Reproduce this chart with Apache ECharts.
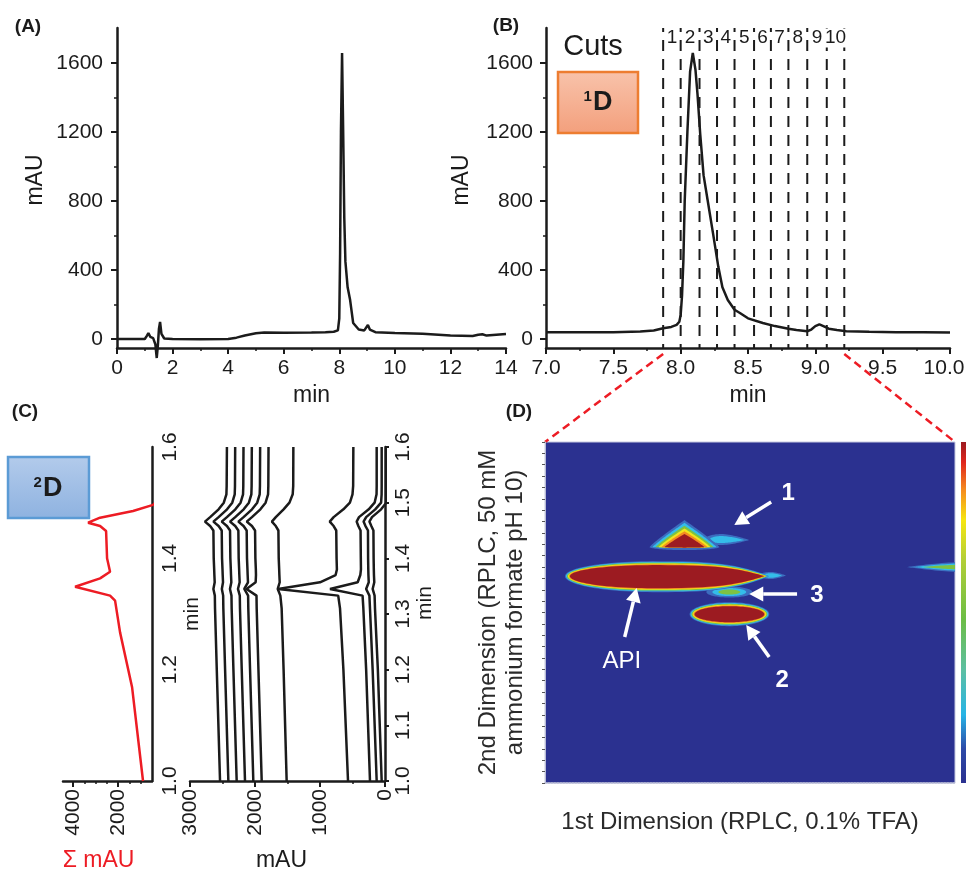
<!DOCTYPE html>
<html>
<head>
<meta charset="utf-8">
<script src="https://cdn.jsdelivr.net/npm/echarts@6.0.0/dist/echarts.min.js"></script>
<style>
html,body{margin:0;padding:0;background:#fff;}
#chart{width:966px;height:871px;}
</style>
</head>
<body>
<div id="chart"></div>
<script>
// ================= DATA =================
// Panel A : full 1D chromatogram
const aTime = [0, 0.5, 1.0, 1.08, 1.13, 1.2, 1.3, 1.38, 1.43, 1.47, 1.51, 1.55, 1.6, 1.7, 2.0, 3.0, 4.0, 4.3, 4.6, 5.0, 5.3, 6.0, 7.0, 7.5, 7.8, 7.95, 8.0, 8.03, 8.06, 8.1, 8.14, 8.18, 8.22, 8.3, 8.39, 8.5, 8.7, 8.9, 8.97, 9.03, 9.1, 9.3, 10, 11, 12, 12.8, 13.0, 13.15, 13.3, 14];
const aMAU  = [0, 0, 0, 20, 35, 12, 5, -30, -110, -40, 60, 99, 30, 3, 0, -2, 0, 8, 20, 33, 38, 37, 38, 40, 42, 50, 120, 500, 1200, 1658, 1200, 700, 450, 300, 226, 93, 55, 50, 60, 81, 55, 40, 35, 30, 20, 18, 25, 28, 20, 29];
const aTickLabels = ['0','2','4','6','8','10','12','14'];

// Panel B : zoom on main peak with heart-cuts
const bTime = [7.0, 7.3, 7.5, 7.7, 7.8, 7.87, 7.93, 7.97, 7.99, 8.0, 8.01, 8.02, 8.03, 8.05, 8.07, 8.09, 8.11, 8.125, 8.145, 8.17, 8.2, 8.24, 8.28, 8.31, 8.35, 8.4, 8.44, 8.5, 8.61, 8.7, 8.8, 8.86, 8.94, 8.97, 9.0, 9.03, 9.06, 9.1, 9.16, 9.23, 9.4, 9.6, 9.8, 10.0];
const bMAU  = [40, 40, 40, 44, 50, 62, 70, 82, 100, 140, 250, 450, 800, 1200, 1550, 1658, 1560, 1420, 1190, 950, 806, 614, 417, 300, 226, 170, 151, 120, 93, 75, 60, 52, 45, 55, 75, 85, 75, 60, 52, 45, 42, 40, 40, 38];
const cutEdges  = [7.87, 8.0, 8.14, 8.27, 8.4, 8.545, 8.67, 8.8, 8.94, 9.085, 9.215];
const cutLabels = ['1','2','3','4','5','6','7','8','9','10'];
const mAUTicks = [0, 400, 800, 1200, 1600];
const mAUMinorTicks = [200, 600, 1000, 1400];

// Panel C : 2D chromatograms of the cuts
const sumTime = [1.0, 1.169, 1.267, 1.324, 1.333, 1.349, 1.364, 1.376, 1.4, 1.449, 1.458, 1.464, 1.473, 1.485, 1.496, 1.515, 1.545, 1.58, 1.595];
const sumMAU  = [889, 1378, 1911, 2133, 2356, 3911, 2800, 2356, 2489, 2533, 2800, 3333, 2800, 1333, 444, -89, -222, -267, -267];
const sumTicks = [2000, 4000];
const sumMinorTicks = [1000, 1500, 2500, 3000, 3500];
const cTime = [1.0, 1.2, 1.31, 1.333, 1.345, 1.357, 1.37, 1.38, 1.4, 1.45, 1.458, 1.466, 1.474, 1.488, 1.5, 1.515, 1.53, 1.6];
const cTrace1  = [2538, 2588, 2615, 2618, 2640, 2620, 2625, 2628, 2635, 2640, 2690, 2770, 2690, 2560, 2480, 2440, 2436, 2432];
const cTrace2  = [2410, 2460, 2487, 2490, 2510, 2492, 2497, 2500, 2507, 2512, 2560, 2640, 2560, 2430, 2350, 2312, 2308, 2305];
const cTrace3  = [2282, 2332, 2359, 2362, 2385, 2364, 2369, 2372, 2379, 2384, 2432, 2512, 2432, 2302, 2222, 2184, 2180, 2177];
const cTrace4  = [2154, 2204, 2231, 2234, 2262, 2236, 2241, 2244, 2251, 2256, 2304, 2384, 2304, 2174, 2094, 2056, 2052, 2049];
const cTrace5  = [2026, 2076, 2103, 2106, 2165, 2108, 2113, 2116, 2123, 2128, 2176, 2256, 2176, 2046, 1966, 1928, 1924, 1921];
const cTrace6  = [1897, 1947, 1974, 1977, 2130, 1990, 1985, 1987, 1994, 1999, 2047, 2127, 2047, 1917, 1837, 1799, 1795, 1792];
const cTrace7  = [1513, 1560, 1590, 1610, 1650, 1620, 1625, 1628, 1635, 1640, 1680, 1740, 1680, 1560, 1470, 1420, 1412, 1410];
const cTrace8  = [569, 640, 692, 720, 1646, 1000, 760, 740, 745, 750, 790, 850, 790, 640, 540, 500, 490, 487];
const cTrace9  = [231, 290, 333, 345, 846, 420, 380, 370, 372, 376, 410, 436, 400, 250, 160, 130, 128, 128];
const cTrace10 = [128, 190, 231, 240, 290, 250, 255, 257, 260, 262, 300, 330, 290, 150, 60, 52, 51, 51];
const cTrace11 = [51, 110, 154, 160, 190, 165, 170, 172, 175, 178, 210, 240, 200, 60, -20, -26, -26, -26];
const cTraces = [cTrace1, cTrace2, cTrace3, cTrace4, cTrace5, cTrace6, cTrace7, cTrace8, cTrace9, cTrace10, cTrace11];

// Panel D : 2D contour map peaks (1D time, 2D time, half-widths, contour levels reached)
const blobNames  = ['API tail', '1 wing', 'late', '3', 'API', '1', '2'];
const blobT1     = [8.6118, 8.4485, 9.2426, 8.4746, 8.223, 8.3275, 8.475];
const blobT2     = [1.3651, 1.4275, 1.38, 1.336, 1.364, 1.4152, 1.297];
const blobW1L    = [0.0392, 0.0556, 0.186, 0.0752, 0.2876, 0.1144, 0.1307];
const blobW1R    = [0.049, 0.0915, 0.016, 0.0752, 0.382, 0.1144, 0.1307];
const blobW2T    = [0.0062, 0.0106, 0.0088, 0.0097, 0.0264, 0.0475, 0.0211];
const blobW2B    = [0.0062, 0.0088, 0.0088, 0.0097, 0.0282, 0.0053, 0.0211];
const blobLevels = [2, 2, 3, 3, 6, 6, 6];
const annLabels = ['1', '3', '2', 'API'];
const annX = [8.6675, 8.7622, 8.6479, 8.1217];
const annY = [1.5103, 1.3308, 1.1812, 1.2147];
const arrowFromX = [8.6119, 8.6969, 8.6054, 8.1315];
const arrowFromY = [1.4944, 1.3325, 1.2217, 1.2569];
const arrowToX   = [8.491, 8.54, 8.5302, 8.1707];
const arrowToY   = [1.454, 1.3325, 1.278, 1.3431];

// ================= STYLE =================
const FONT = '"Liberation Sans", Arial, Helvetica, sans-serif';
const INK = '#1b1b1b';
const RED = '#ed1c24';
const levelColors = ['#3c6dbf', '#34bde9', '#7ec242', '#f2e41b', '#f48c20', '#9c1b21'];
const blobKinds = ['tipR', 'tipR', 'tipL', 'ellipse', 'tipR', 'tri', 'ellipse'];
const blobTipPow = [1.6, 1.6, 1.6, 2, 3.2, 2, 2];
const blobStepX = [4, 5, 8, 6, 1, 3, 1];
const blobStepY = [1.2, 2, 1.3, 1.5, 0.8, 2.8, 0.8];
const TICK_FS = 21, NAME_FS = 23;

const chart = echarts.init(document.getElementById('chart'));

function zip(xs, ys) { return xs.map((x, i) => [x, ys[i]]); }
function zipYX(ts, vs) { return ts.map((t, i) => [vs[i], t]); }

const axLine = { show: true, onZero: false, lineStyle: { color: INK, width: 2.5 } };
const labelStyle = { color: INK, fontSize: TICK_FS, fontFamily: FONT };
const nameStyle = { color: INK, fontSize: NAME_FS, fontFamily: FONT };
const plain = v => String(v);

function blobPoints(cx, cy, rxL, rxR, ryT, ryB, kind, pw) {
  const pts = []; const N = 48;
  const prof = (u, top) => {
    const a = Math.abs(u);
    if (kind === 'tri' && top) return Math.pow(1 - a, 0.9);
    if ((kind === 'tipR' && u > 0) || (kind === 'tipL' && u < 0)) return 1 - Math.pow(a, pw);
    return Math.sqrt(Math.max(0, 1 - a * a));
  };
  for (let i = 0; i <= N; i++) { const u = -Math.cos(Math.PI * i / N); pts.push([cx + u * (u < 0 ? rxL : rxR), cy - ryT * prof(u, true)]); }
  for (let i = N; i >= 0; i--) { const u = -Math.cos(Math.PI * i / N); pts.push([cx + u * (u < 0 ? rxL : rxR), cy + ryB * prof(u, false)]); }
  return pts;
}

const series = [];
series.push({ type: 'line', xAxisIndex: 0, yAxisIndex: 0, data: zip(aTime, aMAU), symbol: 'none', clip: false,
  lineStyle: { color: INK, width: 2.5 } });
series.push({ type: 'line', xAxisIndex: 1, yAxisIndex: 1, data: zip(bTime, bMAU), symbol: 'none', clip: false,
  lineStyle: { color: INK, width: 2.5 }, z: 3 });
series.push({ type: 'custom', xAxisIndex: 1, yAxisIndex: 1, clip: false, silent: true,
  data: cutEdges.map(t => [t]),
  renderItem(params, api) {
    const t = api.value(0);
    const p1 = api.coord([t, 1803]); const p2 = api.coord([t, -52]);
    return { type: 'line', shape: { x1: p1[0], y1: p1[1], x2: p2[0], y2: p2[1] },
      style: { stroke: INK, lineWidth: 2, lineDash: [11, 8], lineDashOffset: 7 } };
  }, z: 2 });
series.push({ type: 'custom', xAxisIndex: 1, yAxisIndex: 1, clip: false, silent: true,
  data: cutLabels.map((l, i) => [(cutEdges[i] + cutEdges[i + 1]) / 2, 1745]),
  renderItem(params, api) {
    const p = api.coord([api.value(0), api.value(1)]);
    return { type: 'text', x: p[0], y: p[1], style: { text: cutLabels[params.dataIndex], fill: INK,
      font: '19px ' + FONT, align: 'center', verticalAlign: 'middle', textAlign: 'center', textVerticalAlign: 'middle',
      backgroundColor: '#fff' } };
  }, z: 4 });
series.push({ type: 'line', xAxisIndex: 2, yAxisIndex: 2, data: zipYX(sumTime, sumMAU), symbol: 'none', clip: false,
  lineStyle: { color: RED, width: 2.5 } });
cTraces.forEach(tr => {
  series.push({ type: 'line', xAxisIndex: 3, yAxisIndex: 3, data: zipYX(cTime, tr), symbol: 'none', clip: false,
    lineStyle: { color: INK, width: 2.5 } });
});
series.push({ type: 'custom', xAxisIndex: 4, yAxisIndex: 4, clip: true, silent: true,
  data: blobNames.map((n, i) => [blobT1[i], blobT2[i], blobW1L[i], blobW1R[i], blobW2T[i], blobW2B[i], blobLevels[i]]),
  renderItem(params, api) {
    const i = params.dataIndex;
    const c = api.coord([api.value(0), api.value(1)]);
    const sL = api.size([api.value(2), api.value(4)]);
    const sR = api.size([api.value(3), api.value(5)]);
    const lv = api.value(6);
    const children = [];
    for (let k = 0; k < lv; k++) {
      const rxL = Math.max(1, sL[0] - k * blobStepX[i]);
      const rxR = Math.max(1, sR[0] - k * blobStepX[i]);
      const ryT = Math.max(1, sL[1] - k * blobStepY[i]);
      const ryB = Math.max(0.6, sR[1] - k * blobStepY[i]);
      children.push({ type: 'polygon', shape: { points: blobPoints(c[0], c[1], rxL, rxR, ryT, ryB, blobKinds[i], blobTipPow[i]) },
        style: { fill: levelColors[k] } });
    }
    return { type: 'group', children };
  } });
series.push({ type: 'custom', xAxisIndex: 4, yAxisIndex: 4, clip: false, silent: true, z: 5,
  data: annLabels.map((l, i) => [annX[i], annY[i]]),
  renderItem(params, api) {
    const i = params.dataIndex;
    const pt = api.coord([annX[i], annY[i]]);
    const a = api.coord([arrowFromX[i], arrowFromY[i]]);
    const b = api.coord([arrowToX[i], arrowToY[i]]);
    const dx = b[0] - a[0], dy = b[1] - a[1], L = Math.hypot(dx, dy), ux = dx / L, uy = dy / L;
    const hl = 14, hw = 7.5;
    const bx = b[0] - ux * hl, by = b[1] - uy * hl;
    return { type: 'group', children: [
      { type: 'line', shape: { x1: a[0], y1: a[1], x2: bx, y2: by }, style: { stroke: '#fff', lineWidth: 3.5 } },
      { type: 'polygon', shape: { points: [[b[0], b[1]], [bx - uy * hw, by + ux * hw], [bx + uy * hw, by - ux * hw]] }, style: { fill: '#fff' } },
      { type: 'text', x: pt[0], y: pt[1], style: { text: annLabels[i], fill: '#fff',
        font: (annLabels[i] === 'API' ? 'normal ' : 'bold ') + '24px ' + FONT,
        align: 'center', verticalAlign: 'middle', textAlign: 'center', textVerticalAlign: 'middle' } }
    ] };
  } });

const option = {
  animation: false,
  backgroundColor: '#fff',
  grid: [
    { left: 117, top: 28, width: 389, height: 320, outerBoundsMode: 'none' },
    { left: 546, top: 28, width: 404, height: 320, outerBoundsMode: 'none' },
    { left: 63, top: 447, width: 89, height: 334, outerBoundsMode: 'none' },
    { left: 190, top: 447, width: 195, height: 334, outerBoundsMode: 'none' },
    { left: 545, top: 442, width: 410, height: 341, outerBoundsMode: 'none', show: true,
      backgroundColor: '#2b3190', borderColor: '#c5c8e0', borderWidth: 1 }
  ],
  xAxis: [
    { gridIndex: 0, type: 'value', min: 0, max: 14, interval: 2, position: 'bottom',
      axisLine: axLine, axisTick: { length: 6, lineStyle: { color: INK, width: 2 } },
      minorTick: { show: true, splitNumber: 2, length: 3, lineStyle: { color: INK, width: 1.5 } },
      axisLabel: Object.assign({ margin: 10, formatter: (v) => aTickLabels[Math.round(v / 2)] }, labelStyle),
      splitLine: { show: false }, minorSplitLine: { show: false },
      name: 'min', nameLocation: 'middle', nameGap: 36, nameTextStyle: nameStyle },
    { gridIndex: 1, type: 'value', min: 7, max: 10, interval: 0.5, position: 'bottom',
      axisLine: axLine, axisTick: { length: 6, lineStyle: { color: INK, width: 2 } },
      minorTick: { show: true, splitNumber: 2, length: 3, lineStyle: { color: INK, width: 1.5 } },
      axisLabel: Object.assign({ margin: 10, formatter: (v) => v === 10 ? '{e|' + v.toFixed(1) + '}' : v.toFixed(1),
        rich: { e: { fontSize: TICK_FS, fontFamily: FONT, color: INK, padding: [0, 12, 0, 0] } } }, labelStyle),
      splitLine: { show: false },
      name: 'min', nameLocation: 'middle', nameGap: 36, nameTextStyle: nameStyle },
    { gridIndex: 2, type: 'value', min: 490, max: 4450, inverse: true, position: 'bottom',
      axisLine: axLine, axisTick: { length: 6, customValues: sumTicks, lineStyle: { color: INK, width: 2 } },
      axisLabel: Object.assign({ margin: 8, rotate: 90, customValues: sumTicks, formatter: plain }, labelStyle),
      splitLine: { show: false },
      name: 'Σ mAU', nameLocation: 'middle', nameGap: 68, nameTextStyle: Object.assign({}, nameStyle, { color: RED, padding: [0, 18, 0, 0] }) },
    { gridIndex: 3, type: 'value', min: 0, max: 3000, interval: 1000, inverse: true, position: 'bottom',
      axisLine: axLine, axisTick: { length: 6, lineStyle: { color: INK, width: 2 } },
      minorTick: { show: true, splitNumber: 2, length: 3, lineStyle: { color: INK, width: 1.5 } },
      axisLabel: Object.assign({ margin: 8, rotate: 90, formatter: plain }, labelStyle),
      splitLine: { show: false },
      name: 'mAU', nameLocation: 'middle', nameGap: 68, nameTextStyle: Object.assign({}, nameStyle, { padding: [0, 12, 0, 0] }) },
    { gridIndex: 4, type: 'value', min: cutEdges[0], max: cutEdges[cutEdges.length - 1], position: 'bottom',
      axisLine: { show: true, lineStyle: { color: '#b8bbd4', width: 1.5, type: 'dotted' } },
      axisTick: { show: false }, axisLabel: { show: false }, splitLine: { show: false },
      name: '1st Dimension (RPLC, 0.1% TFA)', nameLocation: 'middle', nameGap: 27,
      nameTextStyle: Object.assign({}, nameStyle, { fontSize: 24, color: '#2a2a2a', padding: [0, 20, 0, 0] }) },
    { gridIndex: 2, type: 'value', min: 490, max: 4450, inverse: true, position: 'bottom',
      axisLine: { show: false }, axisLabel: { show: false }, splitLine: { show: false },
      axisTick: { length: 3, customValues: sumMinorTicks, lineStyle: { color: INK, width: 1.5 } } }
  ],
  yAxis: [
    { gridIndex: 0, type: 'value', min: -52, max: 1803, position: 'left',
      axisLine: axLine, axisTick: { length: 6, customValues: mAUTicks, lineStyle: { color: INK, width: 2 } },
      axisLabel: Object.assign({ margin: 14, customValues: mAUTicks, formatter: plain }, labelStyle),
      splitLine: { show: false },
      name: 'mAU', nameLocation: 'middle', nameRotate: 90, nameGap: 70, nameTextStyle: Object.assign({}, nameStyle, { padding: [0, 0, 0, 16] }) },
    { gridIndex: 1, type: 'value', min: -52, max: 1803, position: 'left',
      axisLine: axLine, axisTick: { length: 6, customValues: mAUTicks, lineStyle: { color: INK, width: 2 } },
      axisLabel: Object.assign({ margin: 13, customValues: mAUTicks, formatter: plain }, labelStyle),
      splitLine: { show: false },
      name: 'mAU', nameLocation: 'middle', nameRotate: 90, nameGap: 73, nameTextStyle: Object.assign({}, nameStyle, { padding: [0, 0, 0, 16] }) },
    { gridIndex: 2, type: 'value', min: 1.0, max: 1.6, interval: 0.2, position: 'right',
      axisLine: axLine, axisTick: { show: false },
      axisLabel: Object.assign({ margin: 8, rotate: 90, formatter: v => v.toFixed(1) }, labelStyle),
      splitLine: { show: false },
      name: 'min', nameLocation: 'middle', nameRotate: 90, nameGap: 28, nameTextStyle: Object.assign({}, nameStyle, { fontSize: 21 }) },
    { gridIndex: 3, type: 'value', min: 1.0, max: 1.6, interval: 0.1, position: 'right',
      axisLine: axLine, axisTick: { length: 4, lineStyle: { color: INK, width: 2 } },
      axisLabel: Object.assign({ margin: 8, rotate: 90, formatter: v => v.toFixed(1) }, labelStyle),
      splitLine: { show: false },
      name: 'min', nameLocation: 'middle', nameRotate: 90, nameGap: 13, nameTextStyle: Object.assign({}, nameStyle, { fontSize: 21, padding: [0, 0, 0, 22] }) },
    { gridIndex: 4, type: 'value', min: 1.0, max: 1.6, interval: 0.02, position: 'left',
      axisLine: { show: true, lineStyle: { color: '#b8bbd4', width: 1 } },
      axisTick: { show: true, length: 3, lineStyle: { color: '#555', width: 1 } },
      axisLabel: { show: false }, splitLine: { show: false },
      name: '2nd Dimension (RPLC, 50 mM\nammonium formate pH 10)', nameLocation: 'middle', nameRotate: 90, nameGap: 16,
      nameTextStyle: Object.assign({}, nameStyle, { fontSize: 24, lineHeight: 27, color: '#2a2a2a' }) },
    { gridIndex: 0, type: 'value', min: -52, max: 1803, position: 'left',
      axisLine: { show: false }, axisLabel: { show: false }, splitLine: { show: false },
      axisTick: { length: 3, customValues: mAUMinorTicks, lineStyle: { color: INK, width: 1.5 } } },
    { gridIndex: 1, type: 'value', min: -52, max: 1803, position: 'left',
      axisLine: { show: false }, axisLabel: { show: false }, splitLine: { show: false },
      axisTick: { length: 3, customValues: mAUMinorTicks, lineStyle: { color: INK, width: 1.5 } } }
  ],
  series
};
chart.setOption(option);

const bStartL = chart.convertToPixel({ gridIndex: 1 }, [cutEdges[0], -52]);
const bStartR = chart.convertToPixel({ gridIndex: 1 }, [cutEdges[cutEdges.length - 1], -52]);
const dTL = chart.convertToPixel({ gridIndex: 4 }, [cutEdges[0], 1.6]);
const dTR = chart.convertToPixel({ gridIndex: 4 }, [cutEdges[cutEdges.length - 1], 1.6]);
const dBR = chart.convertToPixel({ gridIndex: 4 }, [cutEdges[cutEdges.length - 1], 1.0]);

function txt(x, y, text, size, weight) {
  return { type: 'text', x, y, silent: true,
    style: { text, fill: INK, font: (weight || 'normal') + ' ' + size + 'px ' + FONT,
      align: 'center', verticalAlign: 'middle', textAlign: 'center', textVerticalAlign: 'middle' } };
}
function supText(x, y, sup) {
  return { type: 'text', x, y, silent: true,
    style: { text: '{s|' + sup + '}{d|D}', align: 'center', verticalAlign: 'middle', textAlign: 'center', textVerticalAlign: 'middle',
      rich: { s: { fontSize: 15, fontWeight: 'bold', fontFamily: FONT, fill: INK, color: INK, verticalAlign: 'top', padding: [0, 1, 10, 0] },
              d: { fontSize: 27, fontWeight: 'bold', fontFamily: FONT, fill: INK, color: INK } } } };
}

const graphics = [
  txt(28, 27, '(A)', 19, 'bold'),
  txt(506, 26, '(B)', 19, 'bold'),
  txt(25, 412, '(C)', 19, 'bold'),
  txt(519, 412, '(D)', 19, 'bold'),
  txt(593, 47, 'Cuts', 29, 'normal'),
  { type: 'rect', shape: { x: 558, y: 72, width: 80, height: 61 }, silent: true,
    style: { fill: new echarts.graphic.LinearGradient(0, 0, 0, 1, [{ offset: 0, color: '#f8c3ab' }, { offset: 1, color: '#f39f7c' }]),
      stroke: '#ed7d31', lineWidth: 2.5 } },
  supText(598, 103, '1'),
  { type: 'rect', shape: { x: 8, y: 457, width: 81, height: 61 }, silent: true,
    style: { fill: new echarts.graphic.LinearGradient(0, 0, 0, 1, [{ offset: 0, color: '#b3cbeb' }, { offset: 1, color: '#8eb2e0' }]),
      stroke: '#5b9bd5', lineWidth: 2.5 } },
  supText(48, 489, '2'),
  { type: 'line', silent: true, shape: { x1: bStartL[0], y1: bStartL[1] + 6, x2: dTL[0], y2: dTL[1] },
    style: { stroke: RED, lineWidth: 2.5, lineDash: [8, 5] } },
  { type: 'line', silent: true, shape: { x1: bStartR[0], y1: bStartR[1] + 6, x2: dTR[0], y2: dTR[1] },
    style: { stroke: RED, lineWidth: 2.5, lineDash: [8, 5] } },
  { type: 'rect', silent: true, shape: { x: dTR[0] + 6, y: dTR[1], width: 8, height: dBR[1] - dTR[1] },
    style: { fill: new echarts.graphic.LinearGradient(0, 1, 0, 0, [
      { offset: 0, color: '#2b3190' }, { offset: 0.1, color: '#2d4aa8' }, { offset: 0.2, color: '#27b4e6' },
      { offset: 0.33, color: '#5cbfa3' }, { offset: 0.48, color: '#6cbd45' }, { offset: 0.66, color: '#b5cf36' },
      { offset: 0.77, color: '#f6e610' }, { offset: 0.86, color: '#f58b1f' }, { offset: 0.94, color: '#e0261d' },
      { offset: 1, color: '#9c1b21' }]) } }
];
chart.setOption({ graphic: graphics });
</script>
</body>
</html>
